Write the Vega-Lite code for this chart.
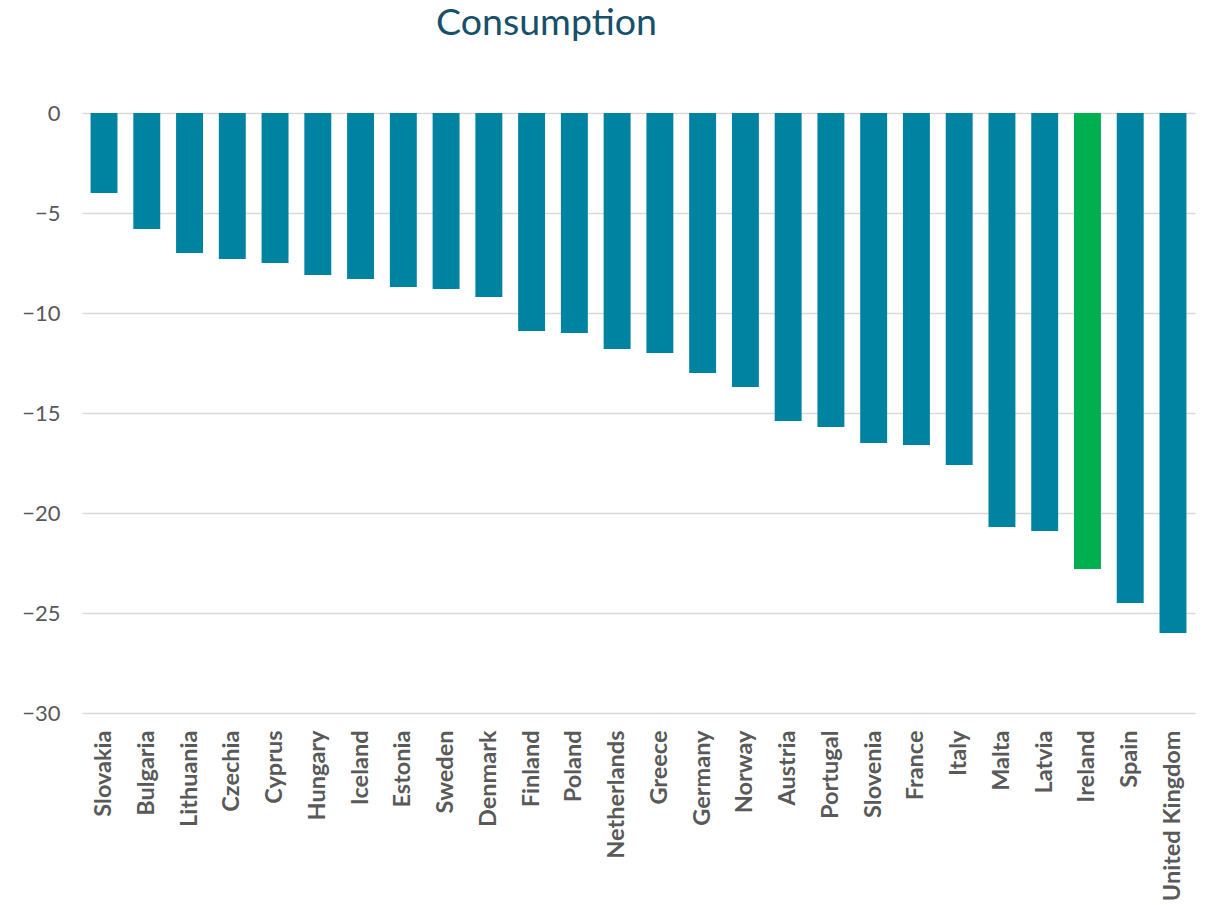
{
  "$schema": "https://vega.github.io/schema/vega-lite/v6.json",
  "autosize": "none",
  "width": 1113,
  "height": 600,
  "padding": {"left": 82, "top": 113, "right": 11, "bottom": 192},
  "background": "white",
  "title": {
    "text": "Consumption",
    "font": "Lato",
    "fontSize": 37.5,
    "fontWeight": "normal",
    "color": "#17506a",
    "anchor": "middle",
    "baseline": "alphabetic",
    "offset": 30,
    "dx": -92
  },
  "config": {
    "view": {"stroke": null},
    "font": "Lato"
  },
  "data": {
    "values": [
      {"country": "Slovakia", "value": -4.0, "group": "other"},
      {"country": "Bulgaria", "value": -5.8, "group": "other"},
      {"country": "Lithuania", "value": -7.0, "group": "other"},
      {"country": "Czechia", "value": -7.3, "group": "other"},
      {"country": "Cyprus", "value": -7.5, "group": "other"},
      {"country": "Hungary", "value": -8.1, "group": "other"},
      {"country": "Iceland", "value": -8.3, "group": "other"},
      {"country": "Estonia", "value": -8.7, "group": "other"},
      {"country": "Sweden", "value": -8.8, "group": "other"},
      {"country": "Denmark", "value": -9.2, "group": "other"},
      {"country": "Finland", "value": -10.9, "group": "other"},
      {"country": "Poland", "value": -11.0, "group": "other"},
      {"country": "Netherlands", "value": -11.8, "group": "other"},
      {"country": "Greece", "value": -12.0, "group": "other"},
      {"country": "Germany", "value": -13.0, "group": "other"},
      {"country": "Norway", "value": -13.7, "group": "other"},
      {"country": "Austria", "value": -15.4, "group": "other"},
      {"country": "Portugal", "value": -15.7, "group": "other"},
      {"country": "Slovenia", "value": -16.5, "group": "other"},
      {"country": "France", "value": -16.6, "group": "other"},
      {"country": "Italy", "value": -17.6, "group": "other"},
      {"country": "Malta", "value": -20.7, "group": "other"},
      {"country": "Latvia", "value": -20.9, "group": "other"},
      {"country": "Ireland", "value": -22.8, "group": "Ireland"},
      {"country": "Spain", "value": -24.5, "group": "other"},
      {"country": "United Kingdom", "value": -26.0, "group": "other"}
    ]
  },
  "mark": {"type": "bar"},
  "encoding": {
    "x": {
      "field": "country",
      "type": "nominal",
      "sort": null,
      "scale": {"paddingInner": 0.37, "paddingOuter": 0.2},
      "axis": {
        "title": null,
        "orient": "bottom",
        "domain": false,
        "ticks": false,
        "labelAngle": -90,
        "labelAlign": "right",
        "labelBaseline": "middle",
        "labelFont": "Lato",
        "labelFontSize": 23.5,
        "labelFontWeight": "bold",
        "labelColor": "#595959",
        "labelPadding": 17,
        "labelOverlap": false,
        "labelLimit": 300,
        "grid": false
      }
    },
    "y": {
      "field": "value",
      "type": "quantitative",
      "scale": {"domain": [-30, 0], "nice": false, "zero": false},
      "axis": {
        "title": null,
        "values": [0, -5, -10, -15, -20, -25, -30],
        "domain": false,
        "ticks": false,
        "labelFont": "Lato",
        "labelFontSize": 22,
        "labelColor": "#595959",
        "labelPadding": 22,
        "grid": true,
        "gridColor": "#d9d9d9",
        "gridWidth": 1.5
      }
    },
    "color": {
      "field": "group",
      "type": "nominal",
      "scale": {"domain": ["other", "Ireland"], "range": ["#0083a1", "#00b050"]},
      "legend": null
    }
  }
}
